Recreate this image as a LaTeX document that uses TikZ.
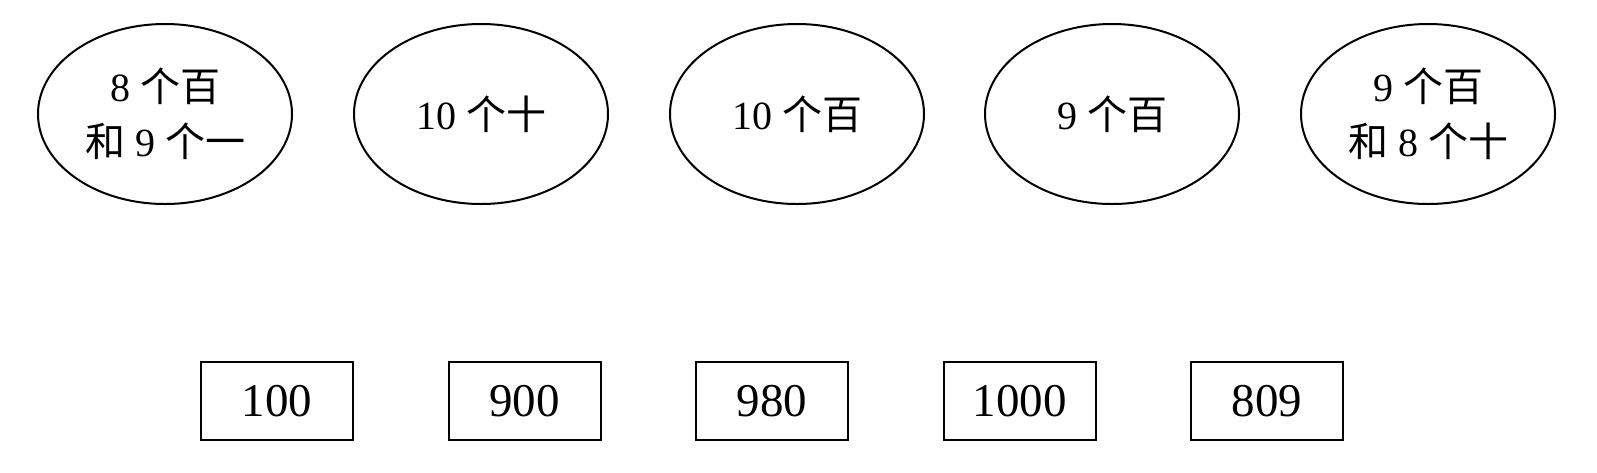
\documentclass[tikz,border=0pt]{standalone}
\usepackage{fontspec}
\setmainfont{Liberation Serif}
\newfontfamily\cjkfont{Noto Sans CJK SC}
\newcommand{\zh}[1]{{\cjkfont #1}}
\usetikzlibrary{shapes.geometric}
\begin{document}
\begin{tikzpicture}[x=1pt,y=-1pt,
  oval/.style={draw,ellipse,line width=2pt,minimum width=254pt,minimum height=180pt,inner sep=0pt,align=center,font=\fontsize{40}{55}\selectfont},
  numbox/.style={draw,rectangle,line width=2pt,minimum width=152pt,minimum height=78pt,inner sep=0pt,font=\fontsize{47}{50}\selectfont}]
\useasboundingbox (0,0) rectangle (1597,472);
\node[oval] (e1) at (165,114) {8 \zh{个百}\\\zh{和} 9 \zh{个一}};
\node[oval] (e2) at (481,114) {10 \zh{个十}};
\node[oval] (e3) at (797,114) {10 \zh{个百}};
\node[oval] (e4) at (1112,114) {9 \zh{个百}};
\node[oval] (e5) at (1428,114) {9 \zh{个百}\\\zh{和} 8 \zh{个十}};
\node[numbox] (b1) at (277,401) {100};
\node[numbox] (b2) at (524.5,401) {900};
\node[numbox] (b3) at (772,401) {980};
\node[numbox] (b4) at (1019.5,401) {1000};
\node[numbox] (b5) at (1267,401) {809};
\end{tikzpicture}
\end{document}
